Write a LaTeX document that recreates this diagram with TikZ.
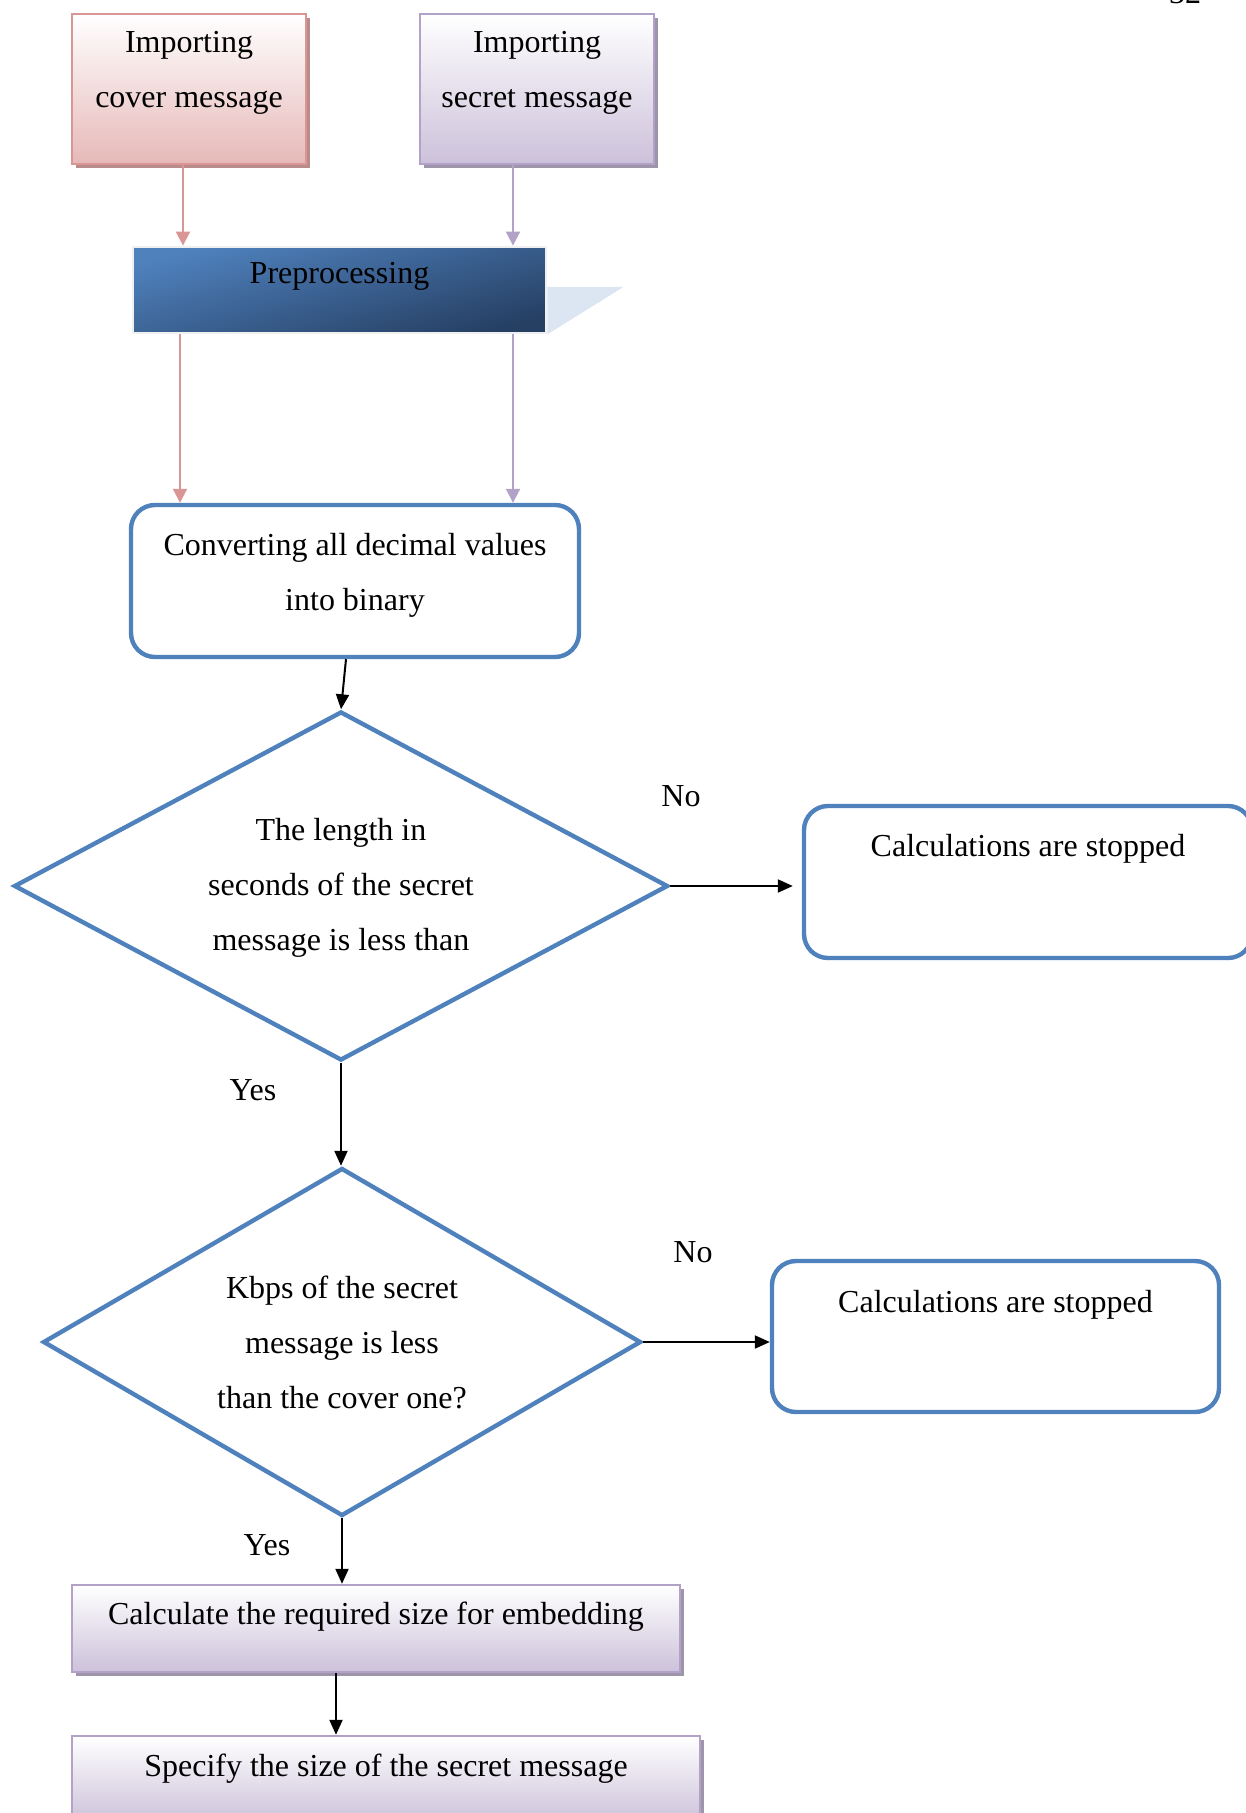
\documentclass[tikz,border=0pt]{standalone}
\usepackage{fontspec}
\setmainfont{Liberation Serif}
\usetikzlibrary{shapes.geometric,arrows.meta,shadows,backgrounds}
\definecolor{coverline}{RGB}{217,150,148}
\definecolor{coverfill}{RGB}{230,185,184}
\definecolor{covershade}{RGB}{185,140,139}
\definecolor{secretline}{RGB}{179,162,199}
\definecolor{secretfill}{RGB}{204,193,218}
\definecolor{secretshade}{RGB}{158,149,171}
\definecolor{preplight}{RGB}{79,129,189}
\definecolor{prepdark}{RGB}{38,64,100}
\definecolor{prepghost}{RGB}{220,230,242}
\definecolor{flowblue}{RGB}{79,129,189}

\begin{document}
\begin{tikzpicture}[x=0.5pt,y=-0.5pt,
  font=\fontsize{16}{27.5}\selectfont,
  inbox/.style={line width=1.2pt,inner sep=0pt,align=center,minimum width=117pt,minimum height=75pt,text height=47pt,text depth=28pt},
  coverbox/.style={inbox,draw=coverline,top color=white,bottom color=coverfill,
    drop shadow={shadow xshift=1.8pt,shadow yshift=-1.8pt,opacity=1,fill=covershade}},
  secretbox/.style={inbox,draw=secretline,top color=white,bottom color=secretfill,
    drop shadow={shadow xshift=1.8pt,shadow yshift=-1.8pt,opacity=1,fill=secretshade}},
  prebox/.style={draw=black!6,line width=1.4pt,inner sep=0pt,top color=preplight,bottom color=prepdark,shading angle=15},
  roundbox/.style={draw=flowblue,line width=2.2pt,rounded corners=12pt,inner sep=0pt,align=center},
  decide/.style={diamond,shape aspect=2,draw=flowblue,line width=2.2pt,inner sep=0pt,align=center,text height=64pt,text depth=0pt},
  lilac/.style={draw=secretline,line width=1.2pt,inner sep=0pt,top color=white,bottom color=secretfill,
    drop shadow={shadow xshift=1.8pt,shadow yshift=-1.8pt,opacity=1,fill=secretshade}},
  tag/.style={inner sep=0pt},
  covarr/.style={-{Triangle[length=7pt,width=7pt]},line width=1pt,coverline},
  secarr/.style={-{Triangle[length=7pt,width=7pt]},line width=1pt,secretline},
  arr/.style={-{Triangle[length=7.5pt,width=6.5pt]},line width=1pt,black}]
\useasboundingbox (0,0) rectangle (1246,1813);
% page number, cut at the top edge
\node[anchor=base,inner sep=0pt] (pgnum) at (1185,4) {32};
% inputs
\node[coverbox] (cover) at (189,89) {Importing\\cover message};
\node[secretbox] (secret) at (537,89) {Importing\\secret message};
\node[prebox,minimum width=206.5pt,minimum height=43pt,text height=18.5pt,text depth=24.5pt] (prep) at (339.5,290) {Preprocessing};
\begin{scope}[on background layer]
\fill[prepghost] ([yshift=1.5pt]prep.east) -- ++(76,0) -- (prep.south east) -- cycle;
\end{scope}
\node[roundbox,minimum width=224pt,minimum height=76pt,text height=52.5pt,text depth=23.5pt] (conv) at (355,581) {Converting all decimal values\\into binary};
% checks
\node[decide,minimum width=327pt,minimum height=174.5pt] (d1) at (341,886) {The length in\\seconds of the secret\\message is less than};
\node[roundbox,minimum width=224pt,minimum height=76pt,text height=25pt,text depth=51pt] (stop1) at (1028,882) {Calculations are stopped};
\node[decide,minimum width=299pt,minimum height=174pt,text height=66pt] (d2) at (342,1342) {Kbps of the secret\\message is less\\than the cover one?};
\node[roundbox,minimum width=223.5pt,minimum height=75.5pt,text height=25.5pt,text depth=50pt] (stop2) at (995.5,1336.5) {Calculations are stopped};
% results
\node[lilac,minimum width=304pt,minimum height=43.5pt,text height=19.5pt,text depth=24pt] (calc) at (376,1628.5) {Calculate the required size for embedding};
\node[lilac,minimum width=314pt,minimum height=43.5pt,text height=20pt,text depth=23.5pt] (spec) at (386,1779.5) {Specify the size of the secret message};
\node[tag] (no1) at (681,796) {No};
\node[tag] (yes1) at (253,1090) {Yes};
\node[tag] (no2) at (693,1252) {No};
\node[tag] (yes2) at (267,1545) {Yes};
% connectors
\draw[covarr] ([xshift=-3pt]cover.south) -- ([xshift=-3pt]cover.south |- prep.north);
\draw[secarr] ([xshift=-12pt]secret.south) -- ([xshift=-12pt]secret.south |- prep.north);
\draw[covarr] ([xshift=-4.5pt]cover.south |- prep.south) -- ([xshift=-4.5pt]cover.south |- conv.north);
\draw[secarr] ([xshift=-12pt]secret.south |- prep.south) -- ([xshift=-12pt]secret.south |- conv.north);
\draw[arr] ([xshift=-4.5pt]conv.south) -- (d1.north);
\draw[arr] (d1.east) -- ([xshift=-4.5pt]d1.east -| stop1.west);
\draw[arr] (d2.east) -- (d2.east -| stop2.west);
\foreach \a/\b in {d1/d2,d2/calc} \draw[arr] (\a.south) -- (\a.south |- \b.north);
\draw[arr] ([xshift=-20pt]calc.south) -- ([xshift=-20pt]calc.south |- spec.north);
\end{tikzpicture}
\end{document}
